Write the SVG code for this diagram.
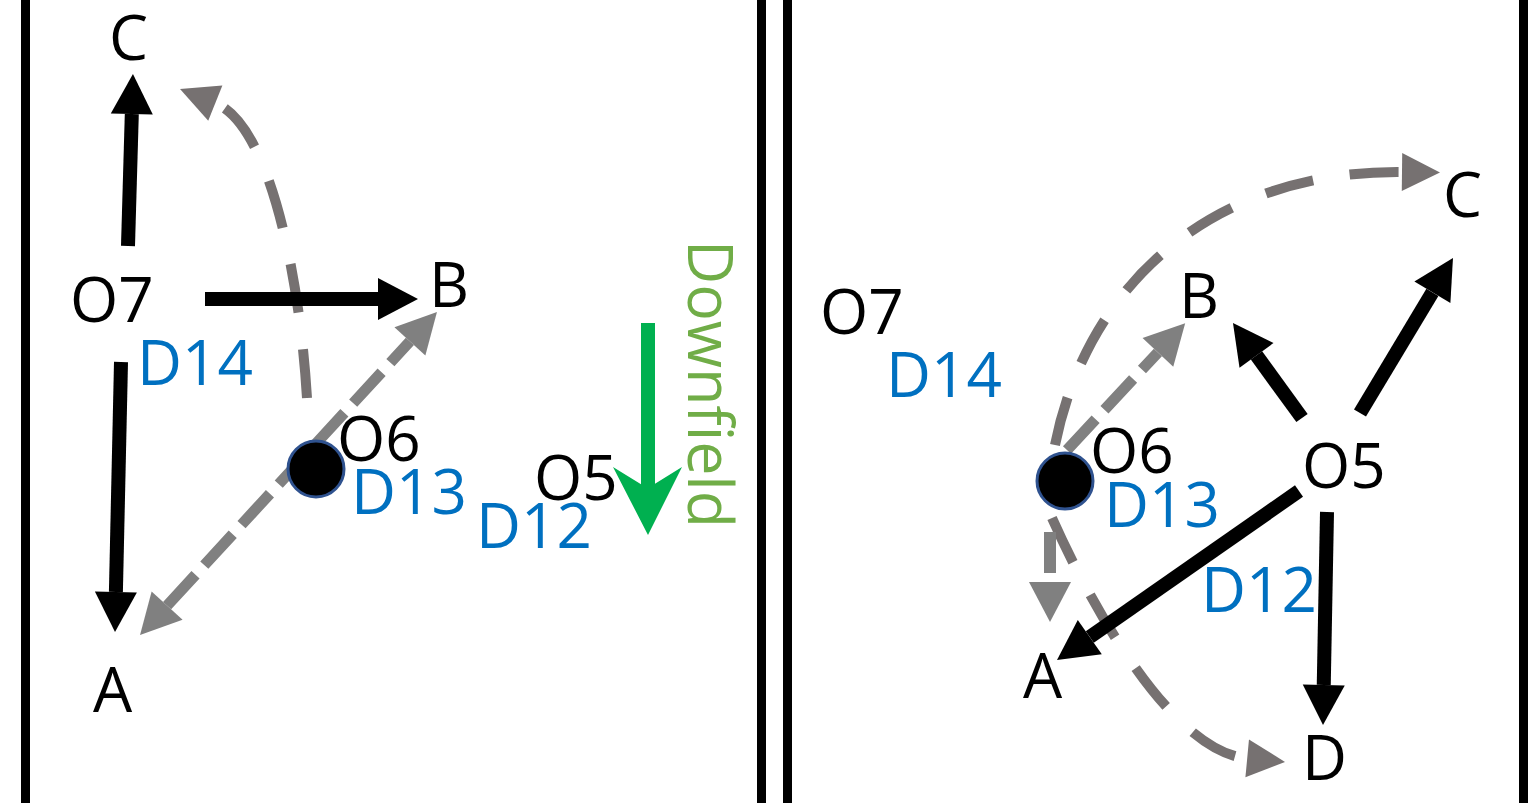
<svg xmlns="http://www.w3.org/2000/svg" width="1539" height="803" viewBox="0 0 1539 803">
<style>
text{font-family:"Open Sans","Liberation Sans",sans-serif;font-size:62px;fill:#000}
.d{fill:#0070C0}
.blk{stroke:#000;stroke-width:14;fill:none;marker-end:url(#hb)}
.gs{stroke:#808080;stroke-width:11;fill:none;stroke-dasharray:42 13}
.gc{stroke:#767171;stroke-width:10;fill:none;stroke-dasharray:49 37;marker-end:url(#hd)}
.border{stroke:#000;stroke-width:9}
</style>
<defs>
<marker id="hb" markerUnits="userSpaceOnUse" orient="auto" refX="0" refY="0" markerWidth="60" markerHeight="60" overflow="visible"><path d="M0,-21 L40,0 L0,21 z" fill="#000"/></marker>
<marker id="hg" markerUnits="userSpaceOnUse" orient="auto-start-reverse" refX="0" refY="0" markerWidth="60" markerHeight="60" overflow="visible"><path d="M0,-21 L40,0 L0,21 z" fill="#808080"/></marker>
<marker id="hd" markerUnits="userSpaceOnUse" orient="auto" refX="0" refY="0" markerWidth="60" markerHeight="60" overflow="visible"><path d="M0,-19 L38,0 L0,19 z" fill="#767171"/></marker>
</defs>
<rect width="1539" height="803" fill="#fff"/>
<g id="borders">
<line class="border" x1="25.5" y1="0" x2="25.5" y2="803"/>
<line class="border" x1="761.5" y1="0" x2="761.5" y2="803"/>
<line class="border" x1="787.5" y1="0" x2="787.5" y2="803"/>
<line class="border" x1="1523.5" y1="0" x2="1523.5" y2="803"/>
</g>
<g id="connectors">
<path class="gc" d="M307,398 C300,280 270.7,125.3 215.3,103.1"/>
<path class="gs" d="M167.1,605.6 L409.9,341.4" marker-start="url(#hg)" marker-end="url(#hg)"/>
<path class="blk" d="M128,246 L131.8,114"/>
<path class="blk" d="M205,299 L378,299"/>
<path class="blk" d="M121,362 L115.9,592"/>
<path class="gc" d="M1055,445 C1089,275 1222,170 1402,172"/>
<path class="gc" d="M1052,518 C1084.5,591 1167.6,750.9 1247.2,758.4"/>
<path class="gs" d="M1067,450 L1157.9,352.4" marker-end="url(#hg)"/>
<path class="gs" d="M1050,532 L1050,582" style="stroke-width:12;stroke-dasharray:41 20" marker-end="url(#hg)"/>
<path class="blk" d="M1299,491 L1089.8,637.1"/>
<path class="blk" d="M1327,512 L1323.75,685"/>
<path class="blk" d="M1302,418 L1256.5,355.4"/>
<path class="blk" d="M1360,413 L1432.4,292.3"/>
<polygon id="downfield-arrow" points="641,323 655,323 655,483.7 682,467 648,535 613,467 641,484.3" fill="#00B050"/>
</g>
<g id="left-C"><text x="109" y="60">C</text></g>
<g id="left-O7"><text x="70" y="322">O7</text></g>
<g id="left-B"><text x="429" y="307">B</text></g>
<g id="left-D14"><text class="d" x="137" y="385">D14</text></g>
<g id="left-O6"><circle cx="316" cy="469" r="28" fill="#000" stroke="#2F528F" stroke-width="3"/><text x="337" y="461">O6</text></g>
<g id="left-D13"><text class="d" x="351" y="514">D13</text></g>
<g id="left-O5"><text x="534" y="500">O5</text></g>
<g id="left-D12"><text class="d" x="476" y="548">D12</text></g>
<g id="left-A"><text x="93" y="712">A</text></g>
<g id="downfield"><text transform="translate(688,240) rotate(90)" textLength="288" lengthAdjust="spacingAndGlyphs" style="fill:#70AD47">Downfield</text></g>
<g id="right-O7"><text x="820" y="334">O7</text></g>
<g id="right-D14"><text class="d" x="886" y="397">D14</text></g>
<g id="right-B"><text x="1179" y="318">B</text></g>
<g id="right-C"><text x="1443" y="217">C</text></g>
<g id="right-O6"><circle cx="1065" cy="481" r="28" fill="#000" stroke="#2F528F" stroke-width="3"/><text x="1090" y="473">O6</text></g>
<g id="right-D13"><text class="d" x="1104" y="527">D13</text></g>
<g id="right-O5"><text x="1302" y="488">O5</text></g>
<g id="right-D12"><text class="d" x="1201" y="612">D12</text></g>
<g id="right-A"><text x="1023" y="698">A</text></g>
<g id="right-D"><text x="1302" y="780">D</text></g>
</svg>
